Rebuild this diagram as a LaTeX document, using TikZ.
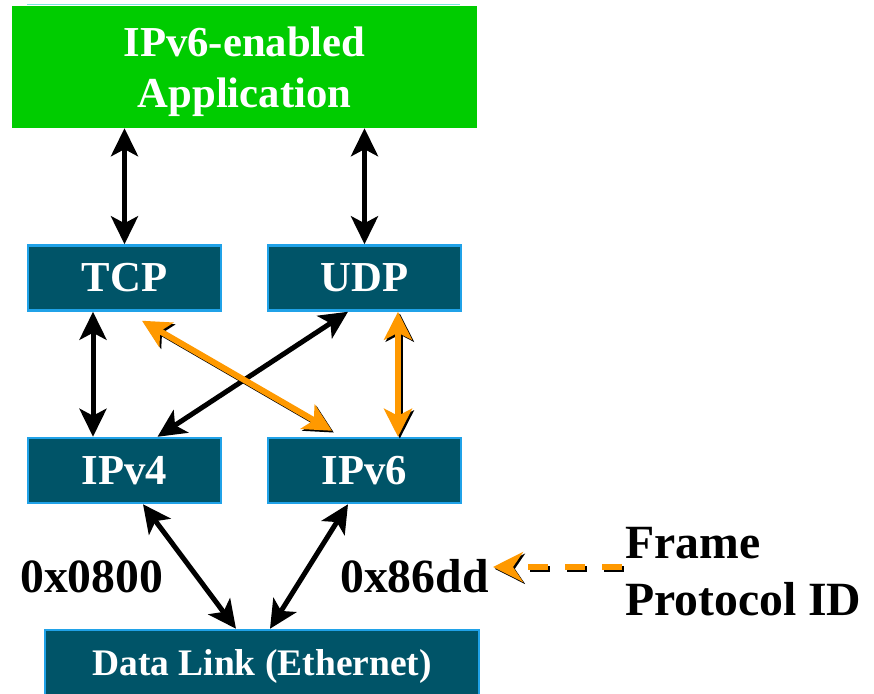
\documentclass[tikz,border=0pt]{standalone}
\usepackage{fontspec}
\setmainfont{Liberation Serif}
\usetikzlibrary{arrows.meta}

\definecolor{appgreen}{RGB}{0,204,0}
\definecolor{layerfill}{RGB}{0,84,104}
\definecolor{layeredge}{RGB}{32,162,232}
\definecolor{flowor}{RGB}{255,153,0}
\definecolor{rimcyan}{RGB}{120,230,220}

\tikzset{
  layer/.style={draw=layeredge, line width=2.5pt, fill=layerfill,
    text=white, font=\bfseries\fontsize{42.7}{50}\selectfont,
    minimum width=193pt, minimum height=65pt, inner sep=0pt},
  biarrow/.style={line width=5pt,
    {Stealth[length=28pt,width=27pt,inset=7pt]}-{Stealth[length=28pt,width=27pt,inset=7pt]}},
  hiarrow/.style={line width=6pt,
    {Stealth[length=28pt,width=28pt,inset=7pt]}-{Stealth[length=28pt,width=28pt,inset=7pt]}},
  shade/.style={black, transform canvas={shift={(1.8pt,-1.8pt)}}},
  label/.style={font=\bfseries\fontsize{47.7}{56}\selectfont, inner sep=0pt, anchor=base west}
}

\begin{document}
\begin{tikzpicture}[x=1pt, y=-1pt]
  \useasboundingbox (0,0) rectangle (874,693);

  % application block
  \draw[rimcyan, line width=1pt] (27,5) -- (460,5);
  \node[fill=appgreen, minimum width=465pt, minimum height=122pt, inner sep=0pt,
        text=white, align=center, font=\bfseries\fontsize{42.7}{51}\selectfont]
        (app) at (244.5,67) {\rule{0pt}{40pt}IPv6-enabled\\Application};

  % transport and network layers
  \node[layer] (tcp)  at (124.5,278) {TCP};
  \node[layer] (udp)  at (364.5,278) {UDP};
  \node[layer] (ipv4) at (124.5,470.5) {IPv4};
  \node[layer] (ipv6) at (364.5,470.5) {IPv6};

  % link layer
  \node[layer, minimum width=434pt, minimum height=72pt,
        font=\bfseries\fontsize{37.5}{44}\selectfont] (dl) at (262,666) {Data Link (Ethernet)};

  % application <-> transport
  \draw[biarrow] (tcp.north |- app.south) -- (tcp.north);
  \draw[biarrow] (udp.north |- app.south) -- (udp.north);

  % transport <-> IPv4
  \draw[biarrow] ([xshift=-31.5pt]tcp.south) -- ([xshift=-31.5pt]ipv4.north);
  \draw[biarrow] ([xshift=-16.5pt]udp.south) -- ([xshift=33pt]ipv4.north);

  % transport <-> IPv6 (highlighted)
  \coordinate (t6a) at ([xshift=17.5pt,yshift=-9pt]tcp.south);
  \coordinate (t6b) at ([xshift=-32.5pt,yshift=6pt]ipv6.north);
  \draw[hiarrow, shade] (t6a) -- (t6b);
  \draw[hiarrow, flowor] (t6a) -- (t6b);
  \draw[hiarrow, shade] ([xshift=33.5pt]udp.south) -- ([xshift=33.5pt]ipv6.north);
  \draw[hiarrow, flowor] ([xshift=33.5pt]udp.south) -- ([xshift=33.5pt]ipv6.north);

  % network <-> link
  \draw[biarrow] ([xshift=18.5pt]ipv4.south) -- ([xshift=-26pt]dl.north);
  \draw[biarrow] ([xshift=-16.5pt]ipv6.south) -- ([xshift=8pt]dl.north);

  % EtherType values
  \node[label] (ethv4) at (20,592) {0x0800};
  \node[label] (ethv6) at (340,592) {0x86dd};

  % annotation
  \node[label] (frame) at (625,558) {Frame};
  \node[label] (protoid) at (625,615) {Protocol ID};
  \coordinate (idtail) at (622,567);
  \coordinate (idtip) at (493,567);
  \draw[shade, line width=6pt, dash pattern=on 20pt off 17pt,
        -{Stealth[length=30pt,width=30pt,inset=10pt]}] (idtail) -- (idtip);
  \draw[flowor, line width=6pt, dash pattern=on 20pt off 17pt,
        -{Stealth[length=30pt,width=30pt,inset=10pt]}] (idtail) -- (idtip);
\end{tikzpicture}
\end{document}
